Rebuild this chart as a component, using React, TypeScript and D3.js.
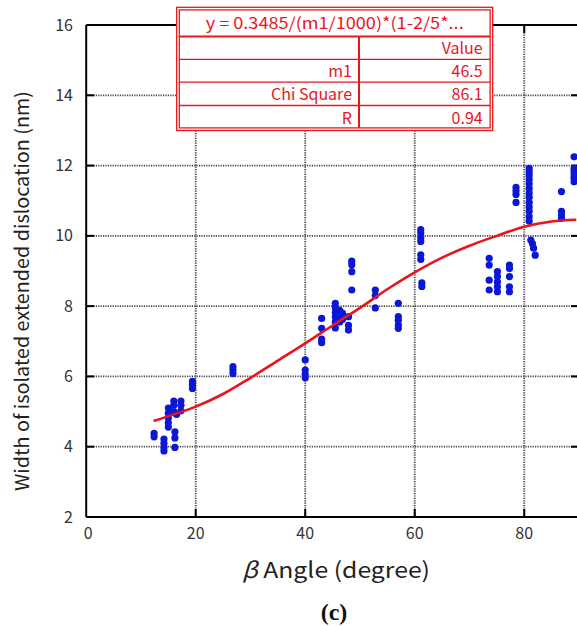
import React from "react";
import * as d3 from "d3";

const xTicks = [0, 20, 40, 60, 80];
const yTicks = [2, 4, 6, 8, 10, 12, 14, 16];

const pointX = [
  12.4, 12.4,
  14.2, 14.2, 14.2, 14.2,
  15.0, 15.0, 15.0, 15.0, 15.0,
  16.2, 16.2, 16.2,
  16.0, 16.0, 16.0, 16.5,
  17.3, 17.3, 17.3,
  19.4, 19.4, 19.4,
  26.8, 26.8, 26.8,
  40.0, 40.0, 40.0, 40.0,
  43.0, 43.0, 43.0, 43.0,
  45.5, 45.5, 45.5, 45.5, 45.5, 45.5,
  46.3, 46.3, 46.3, 46.8, 46.8,
  47.9, 47.9, 47.9,
  48.5, 48.5, 48.5, 48.5,
  52.8, 52.8, 52.8,
  57.0, 57.0, 57.0, 57.0, 57.0,
  61.1, 61.1, 61.1, 61.1, 61.1, 61.1, 61.3, 61.3,
  73.6, 73.6, 73.6, 73.6,
  75.1, 75.1, 75.1, 75.1, 75.1,
  77.3, 77.3, 77.3, 77.3, 77.3,
  78.5, 78.5, 78.5, 78.5,
  80.9, 80.9, 80.9, 80.9, 80.9, 80.9, 80.9, 80.9, 80.9, 80.9, 80.9, 80.9, 80.9,
  81.2, 81.5, 81.7, 82.0,
  86.8, 86.8, 86.8, 86.8,
  89.1, 89.1, 89.1, 89.1, 89.1, 89.1,
];

const pointY = [
  4.38, 4.28,
  4.22, 4.1, 3.98, 3.88,
  5.1, 4.95, 4.82, 4.68, 4.56,
  4.42, 4.25, 3.98,
  5.3, 5.18, 5.0, 4.92,
  5.3, 5.18, 5.02,
  5.86, 5.76, 5.66,
  6.28, 6.18, 6.08,
  6.47, 6.18, 6.06, 5.96,
  7.65, 7.37, 7.06, 6.96,
  8.08, 7.95, 7.82, 7.7, 7.55, 7.38,
  7.88, 7.7, 7.55, 7.8, 7.62,
  7.7, 7.45, 7.32,
  9.28, 9.18, 8.98, 8.46,
  8.46, 8.3, 7.95,
  8.08, 7.7, 7.6, 7.46, 7.37,
  10.18, 10.08, 9.94, 9.84, 9.46, 9.33, 8.66, 8.56,
  9.36, 9.17, 8.74, 8.46,
  8.98, 8.84, 8.69, 8.55, 8.41,
  9.17, 9.07, 8.84, 8.55, 8.41,
  11.38, 11.28, 11.18, 10.95,
  11.92, 11.82, 11.72, 11.6, 11.48, 11.35, 11.22, 11.1, 10.95, 10.82, 10.7, 10.55, 10.42,
  9.88, 9.78, 9.65, 9.45,
  11.26, 10.7, 10.6, 10.5,
  12.25, 11.92, 11.83, 11.73, 11.64, 11.54,
];

const fitX = [12.3, 16, 20, 25, 30, 35, 40, 45, 50, 55, 60, 65, 70, 75, 80, 85, 89.5];
const fitY = [4.73, 4.92, 5.14, 5.5, 5.96, 6.45, 6.94, 7.45, 7.95, 8.48, 8.96, 9.38, 9.72, 10.0, 10.26, 10.41, 10.46];

const tableTitle = "y = 0.3485/(m1/1000)*(1-2/5*...";
const tableLabels = ["", "m1", "Chi Square", "R"];
const tableValues = ["Value", "46.5", "86.1", "0.94"];

const W = 577;
const H = 626;
const left = 86.2;
const right = 579;
const top = 25;
const bottom = 517;

export default function App() {
  const x = d3.scaleLinear().domain([0, 90]).range([left, right]);
  const y = d3.scaleLinear().domain([2, 16]).range([bottom, top]);
  const line = d3
    .line<number>()
    .x((_, i) => x(fitX[i]))
    .y((d) => y(d))
    .curve(d3.curveCatmullRom.alpha(0.5));

  const font = "'Noto Sans CJK JP', 'DejaVu Sans', sans-serif";
  const red = "#e8161c";
  const gridColor = "#444";

  const tL = 176.7, tR = 492.7, tT = 7.3, tB = 130.5;
  const rowLines = [36.5, 59.3, 82.2, 105.5];
  const colX = 359;
  const rowCenters = [48, 71, 94, 118];

  return (
    <svg
      width={W}
      height={H}
      style={{ position: "absolute", left: 0, top: 0, background: "#fff" }}
    >
      <rect x={0} y={0} width={W} height={H} fill="#fff" />
      {/* grid */}
      {xTicks.filter((t) => t > 0).map((t) => (
        <line key={"gx" + t} x1={x(t)} x2={x(t)} y1={top} y2={bottom}
          stroke={gridColor} strokeWidth={1.8} strokeDasharray="1.2,1.2" />
      ))}
      {yTicks.filter((t) => t > 2 && t < 16).map((t) => (
        <line key={"gy" + t} x1={left} x2={right} y1={y(t)} y2={y(t)}
          stroke={gridColor} strokeWidth={1.8} strokeDasharray="1.2,1.2" />
      ))}
      {/* frame */}
      <line x1={left} x2={left} y1={top} y2={bottom} stroke="#000" strokeWidth={2} />
      <line x1={left} x2={right} y1={bottom} y2={bottom} stroke="#000" strokeWidth={2} />
      <line x1={left} x2={right} y1={top} y2={top} stroke="#000" strokeWidth={2} />
      <line x1={right} x2={right} y1={top} y2={bottom} stroke="#000" strokeWidth={2} />
      {/* ticks */}
      {yTicks.filter((t) => t > 2 && t < 16).map((t) => (
        <g key={"ty" + t}>
          <line x1={left} x2={left + 8} y1={y(t)} y2={y(t)} stroke="#000" strokeWidth={2} />
          <line x1={right - 8} x2={right} y1={y(t)} y2={y(t)} stroke="#000" strokeWidth={2} />
        </g>
      ))}
      {xTicks.filter((t) => t > 0).map((t) => (
        <g key={"tx" + t}>
          <line x1={x(t)} x2={x(t)} y1={bottom} y2={bottom - 8} stroke="#000" strokeWidth={2} />
          <line x1={x(t)} x2={x(t)} y1={top} y2={top + 8} stroke="#000" strokeWidth={2} />
        </g>
      ))}
      {/* tick labels */}
      {yTicks.map((t) => (
        <text key={"ly" + t} x={73} y={y(t)} dy="0.35em" textAnchor="end"
          fontFamily={font} fontSize={16} fill="#333">{t}</text>
      ))}
      {xTicks.map((t) => (
        <text key={"lx" + t} x={x(t) + (t === 0 ? 2 : 0)} y={539} textAnchor="middle"
          fontFamily={font} fontSize={16} fill="#333">{t}</text>
      ))}
      {/* points */}
      {pointX.map((px, i) => (
        <circle key={"p" + i} cx={x(px)} cy={y(pointY[i])} r={3.6} fill="#0b17d6" />
      ))}
      {/* fit */}
      <path d={line(fitY) || ""} fill="none" stroke={red} strokeWidth={2.6} />
      {/* table */}
      <rect x={tL} y={tT} width={tR - tL} height={tB - tT} fill="#fff" stroke={red} strokeWidth={1.3} />
      <rect x={tL + 2.6} y={tT + 2.6} width={tR - tL - 5.2} height={tB - tT - 5.2} fill="none" stroke={red} strokeWidth={1.3} />
      {rowLines.map((ry, i) => (
        <line key={"rl" + i} x1={tL + 2.6} x2={tR - 2.6} y1={ry} y2={ry} stroke={red} strokeWidth={i === 0 ? 2 : 1.3} />
      ))}
      <line x1={colX} x2={colX} y1={rowLines[0]} y2={tB - 2.6} stroke={red} strokeWidth={2} />
      <text x={(tL + tR) / 2} y={23} dy="0.35em" textAnchor="middle" fontFamily={font} fontSize={16}
        fill={red} textLength={258} lengthAdjust="spacingAndGlyphs">
        {tableTitle}
      </text>
      {tableLabels.map((s, i) => (
        <text key={"tl" + i} x={colX - 7} y={rowCenters[i]} dy="0.35em" textAnchor="end"
          fontFamily={font} fontSize={16} fill={red}>{s}</text>
      ))}
      {tableValues.map((s, i) => (
        <text key={"tv" + i} x={tR - 10} y={rowCenters[i]} dy="0.35em" textAnchor="end"
          fontFamily={font} fontSize={16} fill={red}>{s}</text>
      ))}
      {/* axis titles */}
      <text transform={`translate(22,${291}) rotate(-90)`} textAnchor="middle" dy="0.35em"
        fontFamily={font} fontSize={19} fill="#222" textLength={400} lengthAdjust="spacingAndGlyphs">
        Width of isolated extended dislocation (nm)
      </text>
      <text x={336} y={578} textAnchor="middle" fontFamily={font} fontSize={22} fill="#222"
        textLength={188} lengthAdjust="spacingAndGlyphs">
        <tspan fontStyle="italic">β</tspan> Angle (degree)
      </text>
      <text x={334} y={620} textAnchor="middle" fontFamily="'Liberation Serif', 'DejaVu Serif', serif"
        fontWeight="bold" fontSize={24} fill="#111">(c)</text>
    </svg>
  );
}
